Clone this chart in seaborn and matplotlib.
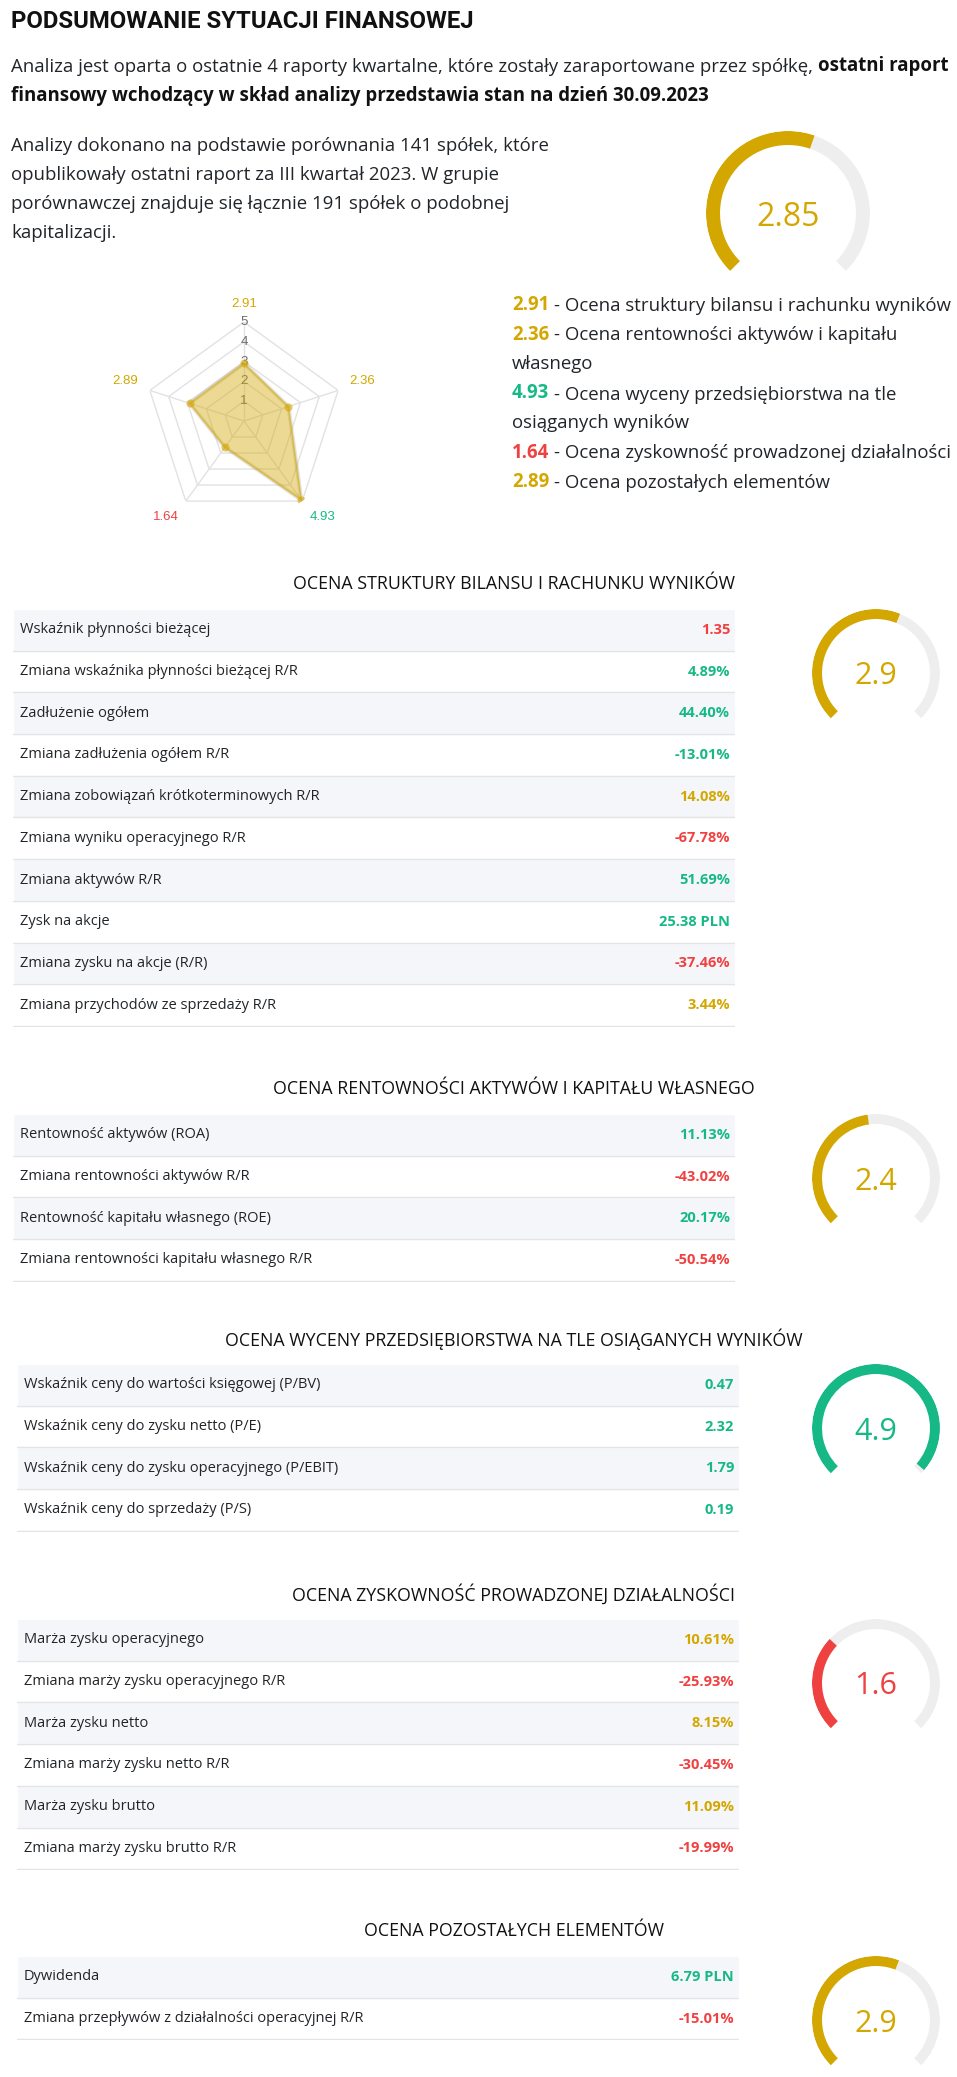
import numpy as np
import pandas as pd
import matplotlib
matplotlib.use("Agg")
import matplotlib.pyplot as plt
import seaborn as sns

# ---------------- data ----------------
GOLD, GREEN, RED = "#D4A700", "#16B986", "#F04141"

title = "PODSUMOWANIE SYTUACJI FINANSOWEJ"
intro_regular = "Analiza jest oparta o ostatnie 4 raporty kwartalne, które zostały zaraportowane przez spółkę,"
intro_bold_1 = "ostatni raport"
intro_bold_2 = "finansowy wchodzący w skład analizy przedstawia stan na dzień 30.09.2023"
para_lines = [
    "Analizy dokonano na podstawie porównania 141 spółek, które",
    "opublikowały ostatni raport za III kwartał 2023. W grupie",
    "porównawczej znajduje się łącznie 191 spółek o podobnej",
    "kapitalizacji.",
]
overall_score = 2.85

radar_scores = [2.91, 2.36, 4.93, 1.64, 2.89]
radar_colors = [GOLD, GOLD, GREEN, RED, GOLD]
radar_ticks = [1, 2, 3, 4, 5]

legend_scores = ["2.91", "2.36", None, "4.93", None, "1.64", "2.89"]
legend_colors = [GOLD, GOLD, None, GREEN, None, RED, GOLD]
legend_texts = [
    "- Ocena struktury bilansu i rachunku wyników",
    "- Ocena rentowności aktywów i kapitału",
    "własnego",
    "- Ocena wyceny przedsiębiorstwa na tle",
    "osiąganych wyników",
    "- Ocena zyskowność prowadzonej działalności",
    "- Ocena pozostałych elementów",
]

section_titles = [
    "OCENA STRUKTURY BILANSU I RACHUNKU WYNIKÓW",
    "OCENA RENTOWNOŚCI AKTYWÓW I KAPITAŁU WŁASNEGO",
    "OCENA WYCENY PRZEDSIĘBIORSTWA NA TLE OSIĄGANYCH WYNIKÓW",
    "OCENA ZYSKOWNOŚĆ PROWADZONEJ DZIAŁALNOŚCI",
    "OCENA POZOSTAŁYCH ELEMENTÓW",
]

s1_labels = ["Wskaźnik płynności bieżącej", "Zmiana wskaźnika płynności bieżącej R/R",
             "Zadłużenie ogółem", "Zmiana zadłużenia ogółem R/R",
             "Zmiana zobowiązań krótkoterminowych R/R", "Zmiana wyniku operacyjnego R/R",
             "Zmiana aktywów R/R", "Zysk na akcje", "Zmiana zysku na akcje (R/R)",
             "Zmiana przychodów ze sprzedaży R/R"]
s1_values = ["1.35", "4.89%", "44.40%", "-13.01%", "14.08%", "-67.78%", "51.69%",
             "25.38 PLN", "-37.46%", "3.44%"]
s1_colors = [RED, GREEN, GREEN, GREEN, GOLD, RED, GREEN, GREEN, RED, GOLD]

s2_labels = ["Rentowność aktywów (ROA)", "Zmiana rentowności aktywów R/R",
             "Rentowność kapitału własnego (ROE)", "Zmiana rentowności kapitału własnego R/R"]
s2_values = ["11.13%", "-43.02%", "20.17%", "-50.54%"]
s2_colors = [GREEN, RED, GREEN, RED]

s3_labels = ["Wskaźnik ceny do wartości księgowej (P/BV)", "Wskaźnik ceny do zysku netto (P/E)",
             "Wskaźnik ceny do zysku operacyjnego (P/EBIT)", "Wskaźnik ceny do sprzedaży (P/S)"]
s3_values = ["0.47", "2.32", "1.79", "0.19"]
s3_colors = [GREEN, GREEN, GREEN, GREEN]

s4_labels = ["Marża zysku operacyjnego", "Zmiana marży zysku operacyjnego R/R",
             "Marża zysku netto", "Zmiana marży zysku netto R/R",
             "Marża zysku brutto", "Zmiana marży zysku brutto R/R"]
s4_values = ["10.61%", "-25.93%", "8.15%", "-30.45%", "11.09%", "-19.99%"]
s4_colors = [GOLD, RED, GOLD, RED, GOLD, RED]

s5_labels = ["Dywidenda", "Zmiana przepływów z działalności operacyjnej R/R"]
s5_values = ["6.79 PLN", "-15.01%"]
s5_colors = [GREEN, RED]

# ---------------- layout / style ----------------
W, H = 957, 2077
TXT = "#212529"
GRID = "#E2E2E2"
TRACK = "#EEEEEE"
BODY = 13.4
ROWFS = 10.5

sns.set_theme(style="white")
plt.rcParams["font.family"] = ["Open Sans", "DejaVu Sans"]

fig = plt.figure(figsize=(W / 100, H / 100), dpi=100)
fig.patch.set_facecolor("white")


def px_axes(x, y, w, h, **kw):
    return fig.add_axes([x / W, 1 - (y + h) / H, w / W, h / H], **kw)


base = px_axes(0, 0, W, H)
base.set_xlim(0, W)
base.set_ylim(H, 0)
base.axis("off")


def gauge(cx, cy, r_out, thick, score, color, label, fs):
    ax = px_axes(cx - r_out, cy - r_out, 2 * r_out, 2 * r_out, projection="polar")
    ax.set_facecolor("none")
    ax.set_theta_zero_location("N")
    ax.set_theta_direction(-1)
    start, span = np.deg2rad(-135), np.deg2rad(270)
    ax.bar(start, thick, width=span, bottom=r_out - thick, align="edge", color=TRACK, lw=0)
    ax.bar(start, thick, width=span * score / 5, bottom=r_out - thick, align="edge",
           color=color, lw=0)
    ax.set_ylim(0, r_out)
    ax.axis("off")
    ax.text(0.5, 0.5, label, transform=ax.transAxes, ha="center", va="center_baseline",
            fontsize=fs, color=color)


# ---------------- header ----------------
base.text(11, 22, title, fontsize=17.2, fontweight="bold", family=["Roboto", "DejaVu Sans"],
          color="#111111", va="center", ha="left")
t1 = base.text(11, 67, intro_regular, fontsize=BODY, color=TXT, va="center", ha="left")
base.annotate(intro_bold_1, xy=(1, 0), xycoords=t1, xytext=(5, 0), textcoords="offset pixels",
              fontsize=BODY, fontweight="bold", color="#111111", va="bottom", ha="left")
base.text(11, 96, intro_bold_2, fontsize=BODY, fontweight="bold", color="#111111",
          va="center", ha="left")
for i, line in enumerate(para_lines):
    base.text(11, 146 + i * 29, line, fontsize=BODY, color=TXT, va="center", ha="left")

gauge(788, 213, 82, 14, overall_score, GOLD, f"{overall_score:.2f}", 23)

# legend list
for i, (sc, col, txt) in enumerate(zip(legend_scores, legend_colors, legend_texts)):
    y = 305 + i * 29.5
    if sc is None:
        base.text(512, y, txt, fontsize=BODY, color=TXT, va="center", ha="left")
    else:
        ts = base.text(512, y, sc, fontsize=BODY, fontweight="bold", color=col,
                       va="center", ha="left")
        base.annotate(txt, xy=(1, 0), xycoords=ts, xytext=(5, 0), textcoords="offset pixels",
                      fontsize=BODY, color=TXT, va="bottom", ha="left")

# ---------------- radar ----------------
RC_X, RC_Y, RR = 244, 421, 99
rax = px_axes(RC_X - RR, RC_Y - RR, 2 * RR, 2 * RR, projection="polar")
rax.set_facecolor("none")
rax.set_theta_zero_location("N")
rax.set_theta_direction(-1)
theta = np.deg2rad(np.arange(len(radar_scores)) * 360 / len(radar_scores))
closed_t = np.append(theta, theta[0])
for lvl in radar_ticks:
    rax.plot(closed_t, [lvl] * len(closed_t), color=GRID, lw=1, zorder=1)
for t in theta:
    rax.plot([t, t], [0, max(radar_ticks)], color=GRID, lw=1, zorder=1)
for lvl in radar_ticks:
    rax.text(0, lvl, str(lvl), ha="center", va="center", fontsize=9.5, color="#6E6E6E",
             family=["Liberation Sans", "DejaVu Sans"], zorder=1.5)
vals_closed = np.append(radar_scores, radar_scores[0])
rax.plot(closed_t, vals_closed, color="#9A9A9A", lw=3, alpha=0.25, zorder=2)
rax.fill(closed_t, vals_closed, color=GOLD, alpha=0.42, lw=0, zorder=2.5)
rax.plot(closed_t, vals_closed, color=GOLD, lw=1.2, alpha=0.55, zorder=3)
rax.scatter(theta, radar_scores, s=34, color=GOLD, alpha=0.6, lw=0, zorder=4)
for t, sc, col in zip(theta, radar_scores, radar_colors):
    dx, dy = np.sin(t), np.cos(t)
    ha = "left" if dx > 0.1 else ("right" if dx < -0.1 else "center")
    va = "bottom" if dy > 0.1 else ("top" if dy < -0.1 else "center")
    rax.annotate(f"{sc:.2f}", xy=(t, max(radar_ticks)), xytext=(12 * dx, 12 * dy),
                 textcoords="offset pixels", ha=ha, va=va, fontsize=9.5, color=col,
                 family=["Liberation Sans", "DejaVu Sans"], annotation_clip=False)
rax.set_ylim(0, max(radar_ticks))
rax.set_xticks([])
rax.set_yticks([])
rax.grid(False)
rax.spines["polar"].set_visible(False)

# ---------------- sections ----------------
sections = [
    (s1_labels, s1_values, s1_colors),
    (s2_labels, s2_values, s2_colors),
    (s3_labels, s3_values, s3_colors),
    (s4_labels, s4_values, s4_colors),
    (s5_labels, s5_values, s5_colors),
]
sec_tops = [609, 1114, 1364, 1619, 1956]
sec_x = [(13, 735), (13, 735), (17, 739), (17, 739), (17, 739)]
ROW_H = 41.7

for k, ((labels, values, colors), top, (x0, x1)) in enumerate(zip(sections, sec_tops, sec_x)):
    n = len(labels)
    base.text(514, top - 25, section_titles[k], fontsize=12.8, color="#111111",
              ha="center", va="center")
    tax = px_axes(x0, top, x1 - x0, n * ROW_H + 1)
    df = pd.DataFrame({"row": labels, "span": 1.0,
                       "band": ["odd" if i % 2 == 0 else "even" for i in range(n)]})
    sns.barplot(data=df, x="span", y="row", hue="band", orient="h", width=1.0, dodge=False,
                palette={"odd": "#F5F6FA", "even": "#FFFFFF"}, saturation=1,
                legend=False, ax=tax)
    for i in range(n):
        tax.axhline(i + 0.5, color="#E3E4E8", lw=1)
    tw = x1 - x0
    for i, (lab, val, col) in enumerate(zip(labels, values, colors)):
        tax.text(7 / tw, i, lab, ha="left", va="center", fontsize=ROWFS, color=TXT)
        tax.text(1 - 5 / tw, i, val, ha="right", va="center", fontsize=ROWFS,
                 fontweight="bold", color=col)
    tax.set_xlim(0, 1)
    tax.set_ylim(n - 0.5 + 1 / ROW_H, -0.5)
    tax.axis("off")

    sc = radar_scores[k]
    gauge(876, top + 64, 64, 10, sc, radar_colors[k], f"{sc:.1f}", 22)

fig.savefig("out.png", dpi=100, facecolor="white")
